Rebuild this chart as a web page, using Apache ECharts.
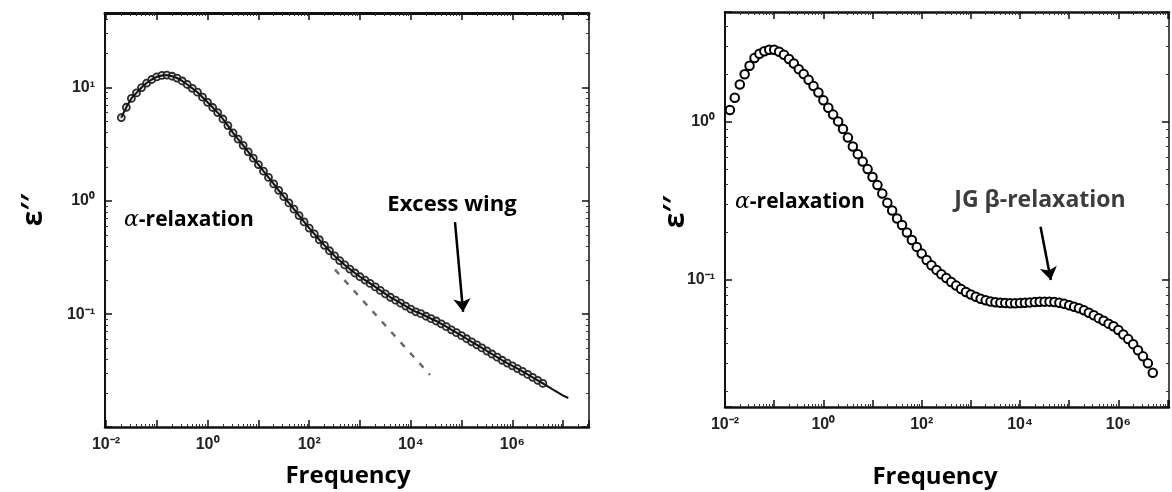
<!DOCTYPE html>
<html>
<head>
<meta charset="utf-8">
<title>Dielectric loss spectra</title>
<script src="https://cdn.jsdelivr.net/npm/echarts@6.0.0/dist/echarts.min.js"></script>
<style>
    html, body { margin: 0; padding: 0; background: #fff; }
    #chart { width: 1172px; height: 492px; }
</style>
</head>
<body>
<div id="chart"></div>
<script>
// Left panel: alpha peak + excess wing
const leftFreq = [
    0.02, 0.0251, 0.0316, 0.0398, 0.0501, 0.0631, 0.0794,
    0.1, 0.126, 0.158, 0.2, 0.251, 0.316, 0.398, 0.501, 0.631, 0.794,
    1, 1.26, 1.58, 2, 2.51, 3.16, 3.98, 5.01, 6.31, 7.94,
    10, 12.6, 15.8, 20, 25.1, 31.6, 39.8, 50.1, 63.1, 79.4,
    100, 126, 158, 200, 251, 316, 398, 501, 631, 794,
    1000, 1260, 1580, 2000, 2510, 3160, 3980, 5010, 6310, 7940,
    1e4, 1.26e4, 1.58e4, 2e4, 2.51e4, 3.16e4, 3.98e4, 5.01e4, 6.31e4, 7.94e4,
    1e5, 1.26e5, 1.58e5, 2e5, 2.51e5, 3.16e5, 3.98e5, 5.01e5, 6.31e5, 7.94e5,
    1e6, 1.26e6, 1.58e6, 2e6, 2.51e6, 3.16e6, 3.98e6
];
const leftEps = [
    5.43, 6.70, 8.02, 8.97, 10.0, 10.96, 11.78,
    12.45, 12.79, 12.88, 12.59, 12.13, 11.43, 10.64, 9.84, 9.10, 8.22,
    7.41, 6.67, 6.01, 5.28, 4.62, 3.98, 3.51, 3.09, 2.71, 2.38,
    2.09, 1.83, 1.61, 1.41, 1.24, 1.09, 0.959, 0.845, 0.741, 0.652,
    0.575, 0.511, 0.454, 0.405, 0.363, 0.327, 0.297, 0.272, 0.250, 0.231,
    0.214, 0.200, 0.187, 0.174, 0.162, 0.151, 0.141, 0.133, 0.125, 0.118,
    0.111, 0.105, 0.101, 0.0959, 0.0912, 0.0871, 0.0822, 0.0776, 0.0728, 0.0687,
    0.0646, 0.0607, 0.0570, 0.0536, 0.0504, 0.0473, 0.0445, 0.0417, 0.0392, 0.0370,
    0.0350, 0.0331, 0.0313, 0.0294, 0.0277, 0.0261, 0.0245
];
// fit line keeps going past the last measured point
const leftFitTailFreq = [6.31e6, 1e7, 1.26e7];
const leftFitTailEps = [0.0216, 0.0191, 0.0182];
// dashed extrapolation of the alpha peak
const dashFreq = [322, 23900];
const dashEps = [0.247, 0.0291];
// "Excess wing" arrow, tail -> head
const leftArrowFreq = [7.41e4, 1.07e5];
const leftArrowEps = [0.650, 0.105];

// Right panel: alpha peak + JG beta relaxation
const rightFreq = [
    0.0126, 0.0158, 0.02, 0.0251, 0.0316, 0.0398, 0.0501, 0.0631, 0.0794,
    0.1, 0.126, 0.158, 0.2, 0.251, 0.316, 0.398, 0.501, 0.631, 0.794,
    1, 1.26, 1.58, 2, 2.51, 3.16, 3.98, 5.01, 6.31, 7.94,
    10, 12.6, 15.8, 20, 25.1, 31.6, 39.8, 50.1, 63.1, 79.4,
    100, 126, 158, 200, 251, 316, 398, 501, 631, 794,
    1000, 1260, 1580, 2000, 2510, 3160, 3980, 5010, 6310, 7940,
    1e4, 1.26e4, 1.58e4, 2e4, 2.51e4, 3.16e4, 3.98e4, 5.01e4, 6.31e4, 7.94e4,
    1e5, 1.26e5, 1.58e5, 2e5, 2.51e5, 3.16e5, 3.98e5, 5.01e5, 6.31e5, 7.94e5,
    1e6, 1.26e6, 1.58e6, 2e6, 2.51e6, 3.16e6, 3.98e6, 5.01e6
];
const rightEps = [
    1.186, 1.416, 1.718, 1.995, 2.254, 2.523, 2.685, 2.786, 2.844,
    2.851, 2.767, 2.649, 2.489, 2.333, 2.148, 2.000, 1.841, 1.683, 1.531,
    1.365, 1.225, 1.109, 1.005, 0.899, 0.794, 0.698, 0.624, 0.560, 0.502,
    0.448, 0.398, 0.352, 0.308, 0.275, 0.245, 0.223, 0.200, 0.179, 0.162,
    0.147, 0.134, 0.124, 0.116, 0.109, 0.103, 0.0973, 0.0923, 0.0879, 0.0841,
    0.0811, 0.0785, 0.0762, 0.0745, 0.0733, 0.0724, 0.0719, 0.0716, 0.0714, 0.0714,
    0.0716, 0.0719, 0.0723, 0.0726, 0.0729, 0.0731, 0.0731, 0.0728, 0.0719, 0.0708,
    0.0693, 0.0678, 0.0664, 0.0644, 0.0622, 0.0600, 0.0575, 0.0553, 0.0531, 0.0511,
    0.0484, 0.0453, 0.0424, 0.0394, 0.0361, 0.0330, 0.0298, 0.0260
];
// "JG beta-relaxation" arrow, tail -> head
const rightArrowFreq = [2.61e4, 4.23e4];
const rightArrowEps = [0.217, 0.1];

// exponents that get a "10^n" label
const xLabelExps = [-2, 0, 2, 4, 6];
const leftYLabelExps = [-1, 0, 1];
const rightYLabelExps = [-1, 0];

const SUP = { '-': '⁻', '0': '⁰', '1': '¹', '2': '²', '3': '³', '4': '⁴', '5': '⁵', '6': '⁶', '7': '⁷', '8': '⁸', '9': '⁹' };
const SANS = '"Open Sans", "Noto Sans", sans-serif';

function pairs(xs, ys) {
    return xs.map((x, i) => [x, ys[i]]);
}

function powerLabel(shown) {
    return (value) => {
        const e = Math.log10(value);
        const n = Math.round(e);
        if (Math.abs(e - n) > 1e-6 || !shown.includes(n)) return '';
        return '10' + String(n).split('').map(c => SUP[c]).join('');
    };
}

function logAxis(gridIndex, min, max, position, labelExps, lineWidth) {
    return {
        type: 'log',
        logBase: 10,
        gridIndex: gridIndex,
        position: position,
        min: min,
        max: max,
        axisLine: { show: true, onZero: false, lineStyle: { color: '#111', width: lineWidth } },
        axisTick: { show: true, inside: true, length: 7, lineStyle: { color: '#111', width: 1.5 } },
        minorTick: { show: true, splitNumber: 9, length: 3, lineStyle: { color: '#333', width: 1 } },
        splitLine: { show: false },
        axisLabel: labelExps ? {
            show: true,
            showMinLabel: true,
            showMaxLabel: true,
            margin: 10,
            color: '#222',
            fontFamily: '"Liberation Sans", Arial, sans-serif',
            fontSize: 16,
            fontWeight: 'bold',
            formatter: powerLabel(labelExps)
        } : { show: false }
    };
}

// arrows are drawn in data space as a mark line with an arrow head
function arrowLine(xs, ys) {
    return {
        silent: true,
        animation: false,
        symbol: ['none', 'arrow'],
        symbolSize: 13,
        label: { show: false },
        itemStyle: { color: '#000' },
        lineStyle: { color: '#000', width: 2.5, type: 'solid' },
        emphasis: { disabled: true },
        data: [[
            { coord: [xs[0], ys[0]], itemStyle: { color: '#000' } },
            { coord: [xs[1], ys[1]], itemStyle: { color: '#000' } }
        ]]
    };
}

function relaxText(x, y, prefix, fill) {
    return {
        type: 'text',
        x: x,
        y: y,
        silent: true,
        style: {
            text: '{a|' + prefix + '}{b|-relaxation}',
            align: 'left',
            verticalAlign: 'middle',
            rich: {
                a: { fontFamily: '"DejaVu Serif", serif', fontStyle: 'italic', fontSize: 22, fill: '#000' },
                b: { fontFamily: SANS, fontWeight: 'bold', fontSize: 21, fill: fill }
            }
        }
    };
}

function plainText(x, y, text, size, opts = {}) {
    const el = {
        type: 'text',
        x: x,
        y: y,
        silent: true,
        style: {
            text: text,
            align: 'center',
            verticalAlign: 'middle',
            fontFamily: SANS,
            fontWeight: 'bold',
            fontSize: size,
            fill: opts.fill || '#000'
        }
    };
    if (opts.rotation) el.rotation = opts.rotation;
    return el;
}

const chart = echarts.init(document.getElementById('chart'), null, { renderer: 'canvas' });

const option = {
    animation: false,
    backgroundColor: '#fff',
    grid: [
        { left: 105, top: 13, width: 484, height: 414 },
        { left: 725, top: 12, width: 446, height: 395 }
    ],
    xAxis: [
        logAxis(0, 0.00955, 3.22e7, 'bottom', xLabelExps, 2.5),
        logAxis(0, 0.00955, 3.22e7, 'top', null, 3),
        logAxis(1, 0.01, 1.07e7, 'bottom', xLabelExps, 2.5),
        logAxis(1, 0.01, 1.07e7, 'top', null, 2.5)
    ],
    yAxis: [
        logAxis(0, 0.0101, 45.5, 'left', leftYLabelExps, 2),
        logAxis(0, 0.0101, 45.5, 'right', null, 1.5),
        logAxis(1, 0.0158, 4.93, 'left', rightYLabelExps, 2),
        logAxis(1, 0.0158, 4.93, 'right', null, 1.5)
    ],
    series: [
        {
            name: 'fit',
            type: 'line',
            xAxisIndex: 0,
            yAxisIndex: 0,
            showSymbol: false,
            silent: true,
            lineStyle: { color: '#111', width: 2 },
            data: pairs(leftFreq, leftEps).concat(pairs(leftFitTailFreq, leftFitTailEps))
        },
        {
            name: 'alpha extrapolation',
            type: 'line',
            xAxisIndex: 0,
            yAxisIndex: 0,
            showSymbol: false,
            silent: true,
            lineStyle: { color: '#6a6a6a', width: 2.5, type: [6, 8] },
            data: pairs(dashFreq, dashEps)
        },
        {
            name: 'left data',
            type: 'scatter',
            xAxisIndex: 0,
            yAxisIndex: 0,
            symbol: 'circle',
            symbolSize: 7,
            itemStyle: { color: '#e4e4e4', borderColor: '#2a2a2a', borderWidth: 1.8, opacity: 1 },
            data: pairs(leftFreq, leftEps)
        },
        {
            name: 'left arrow',
            type: 'line',
            xAxisIndex: 0,
            yAxisIndex: 0,
            showSymbol: false,
            silent: true,
            lineStyle: { width: 0 },
            itemStyle: { color: '#000' },
            data: [],
            markLine: arrowLine(leftArrowFreq, leftArrowEps)
        },
        {
            name: 'right data',
            type: 'scatter',
            xAxisIndex: 2,
            yAxisIndex: 2,
            symbol: 'circle',
            symbolSize: 8.5,
            itemStyle: { color: '#fff', borderColor: '#000', borderWidth: 2, opacity: 1 },
            data: pairs(rightFreq, rightEps)
        },
        {
            name: 'right arrow',
            type: 'line',
            xAxisIndex: 2,
            yAxisIndex: 2,
            showSymbol: false,
            silent: true,
            lineStyle: { width: 0 },
            itemStyle: { color: '#000' },
            data: [],
            markLine: arrowLine(rightArrowFreq, rightArrowEps)
        }
    ],
    graphic: [
        relaxText(124, 220, 'α', '#000'),
        plainText(452, 205, 'Excess wing', 22),
        relaxText(735, 202, 'α', '#000'),
        plainText(1040, 200, 'JG β-relaxation', 23, { fill: '#3c3c3c' }),
        plainText(348, 476, 'Frequency', 24),
        plainText(935, 477, 'Frequency', 24),
        plainText(34, 210, 'ε′′', 28, { rotation: Math.PI / 2 }),
        plainText(676, 212, 'ε′′', 28, { rotation: Math.PI / 2 })
    ]
};

chart.setOption(option);
window.addEventListener('resize', () => chart.resize());
</script>
</body>
</html>
